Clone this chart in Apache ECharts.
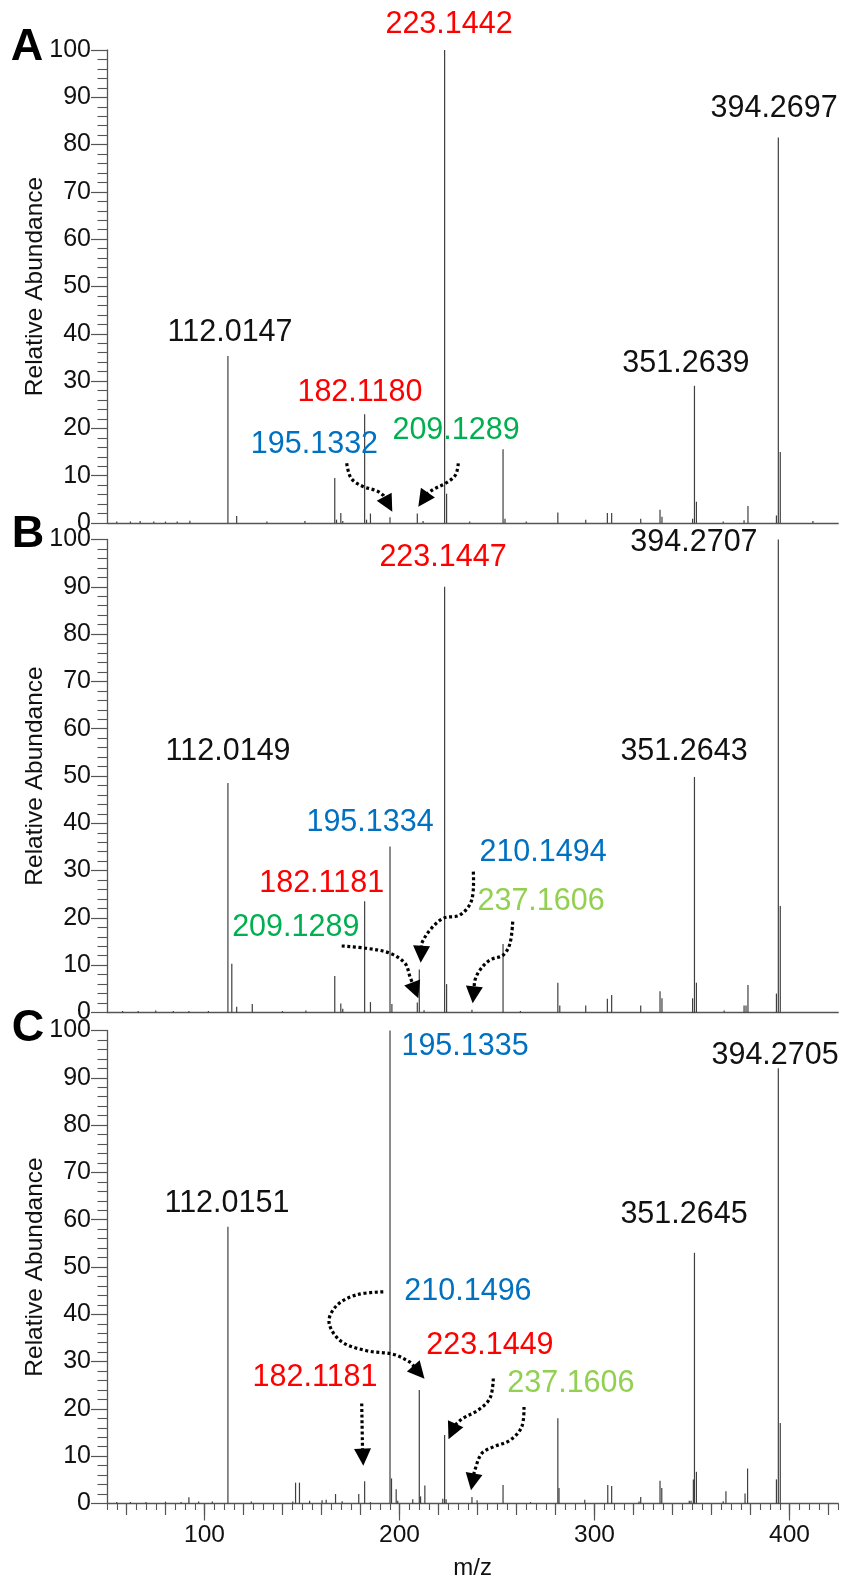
<!DOCTYPE html>
<html>
<head>
<meta charset="utf-8">
<script src="https://cdn.jsdelivr.net/npm/echarts@6/dist/echarts.min.js"></script>
<style>html,body{margin:0;padding:0;background:#fff}#chart{width:843px;height:1577px}</style>
</head>
<body>
<div id="chart"></div>
<script>
// ---------- DATA ----------
// Panel A
const mzA  = [55, 62, 67, 74, 80, 86, 92.5, 112.01, 116.5, 132, 151.5, 166.8, 167.7, 169.9, 170.9, 182.12, 183.1, 185.1, 195.13, 209.13, 212.1, 223.14, 224.15, 236, 253.1, 254.1, 265, 281.2, 295.5, 306.6, 308.8, 323.7, 333.6, 334.6, 350.3, 351.26, 352.27, 366, 376.7, 378.7, 393.3, 394.27, 395.27, 412];
const intA = [0.3, 0.3, 0.4, 0.3, 0.3, 0.3, 0.5, 35.3, 1.5, 0.3, 0.4, 9.5, 0.7, 2.1, 0.4, 23, 0.7, 2.0, 1.2, 2.0, 0.4, 100, 6.2, 0.3, 15.6, 0.9, 0.3, 2.2, 0.7, 2.1, 2.1, 0.9, 2.8, 1.3, 0.9, 29, 4.5, 0.3, 0.6, 3.6, 1.6, 81.5, 15, 0.4];
// Panel B
const mzB  = [58, 66, 75, 84, 92, 102, 112.01, 114.0, 116.5, 124.5, 140, 152, 166.8, 169.9, 170.9, 182.12, 185.1, 195.13, 196.1, 209.13, 210.15, 212.6, 223.14, 224.15, 237.16, 253.1, 262, 281.2, 282.2, 295.5, 306.6, 308.8, 323.7, 333.6, 334.6, 350.3, 351.26, 352.27, 366.5, 376.7, 377.7, 378.7, 393.3, 394.27, 395.27];
const intB = [0.3, 0.3, 0.4, 0.3, 0.3, 0.3, 48.5, 10.3, 1.2, 1.8, 0.3, 0.4, 7.7, 1.9, 0.8, 23.5, 2.2, 35.1, 1.8, 2.1, 9.1, 0.5, 90, 6.0, 0.6, 14.5, 0.3, 6.3, 1.5, 1.5, 2.9, 3.7, 1.5, 4.5, 3.0, 3.0, 49.8, 6.3, 0.4, 1.5, 1.5, 5.8, 4.0, 100, 22.5];
// Panel C
const mzC  = [55, 62, 70, 80, 88, 92.0, 97, 104, 112.01, 124, 145.3, 146.7, 148.7, 153.9, 160.3, 162.4, 167.2, 170.6, 179.1, 182.12, 185.1, 195.13, 195.9, 198.3, 199.1, 206.8, 210.15, 210.8, 213.0, 222.2, 223.14, 223.9, 237.16, 239.8, 253.1, 267.2, 281.2, 281.8, 295.0, 306.8, 308.8, 322.8, 323.7, 333.6, 334.5, 348.6, 349.5, 350.7, 351.26, 352.27, 366, 367.4, 377.2, 378.5, 393.3, 394.27, 395.27];
const intC = [0.3, 0.3, 0.3, 0.4, 0.3, 1.3, 0.4, 0.4, 58.5, 0.4, 0.4, 4.4, 4.4, 0.6, 0.7, 0.8, 2.0, 0.5, 2.0, 4.7, 0.3, 100, 5.3, 3.0, 0.6, 0.9, 24, 1.5, 3.8, 1.0, 14.5, 0.9, 1.4, 0.7, 3.9, 0.3, 18, 3.3, 0.8, 3.9, 3.7, 0.4, 1.4, 4.8, 3.3, 0.6, 0.6, 5.1, 53, 6.7, 0.5, 2.6, 2.1, 7.4, 5.1, 92, 17];

// Peak annotation texts and ion kinds
const labelTextA = ['223.1442', '394.2697', '112.0147', '351.2639', '182.1180', '209.1289', '195.1332'];
const labelKindA = ['red', 'black', 'black', 'black', 'red', 'green', 'blue'];
const labelTextB = ['223.1447', '394.2707', '112.0149', '351.2643', '195.1334', '210.1494', '182.1181', '237.1606', '209.1289'];
const labelKindB = ['red', 'black', 'black', 'black', 'blue', 'blue', 'red', 'lime', 'green'];
const labelTextC = ['195.1335', '394.2705', '112.0151', '351.2645', '210.1496', '223.1449', '182.1181', '237.1606'];
const labelKindC = ['blue', 'black', 'black', 'black', 'blue', 'red', 'red', 'lime'];

// Tick values
const xMajorTicks = [100, 200, 300, 400];
const xMidTicks = [60, 80, 100, 120, 140, 160, 180, 200, 220, 240, 260, 280, 300, 320, 340, 360, 380, 400, 420];
const xMinorTicks = [];
for (let v = 50; v <= 425; v += 5) xMinorTicks.push(v);

// ---------- LAYOUT (annotation anchors in data units: [m/z, abundance]) ----------
const labelPosA = [[225.4,105.3],[392.1,87.7],[113.1,40.2],[346.9,33.8],[179.7,27.5],[229.0,19.5],[156.4,16.5]];
const labelPosB = [[222.3,96.1],[351.0,99.3],[112.1,55.1],[345.9,55.1],[184.9,40.1],[273.6,33.9],[160.1,27.3],[272.6,23.4],[146.8,18.0]];
const labelPosC = [[233.6,96.7],[392.6,94.6],[111.5,63.4],[345.9,61.0],[235.1,44.9],[246.4,33.3],[156.7,26.6],[287.9,25.4]];

const arrowsA = [
  [[172.92,12.62],[175.13,9.51],[180.77,7.82],[188.46,6.77],[191.79,5.81],[196.31,2.39]],
  [[230.15,12.62],[228.72,10.15],[223.85,8.46],[217.69,7.19],[214.10,6.13],[209.64,3.45]]
];
const arrowsB = [
  [[237.85,29.77],[237.03,23.78],[231.03,20.61],[222.46,19.92],[215.64,17.44],[211.38,14.63],[210.87,10.53]],
  [[170.36,14.06],[183.18,13.57],[195.13,12.52],[202.82,10.40],[205.38,7.57],[209.64,3.00]],
  [[258.05,19.20],[256.67,14.63],[253.23,12.16],[246.41,11.10],[241.28,8.99],[238.72,6.87],[237.54,1.95]]
];
const arrowsC = [
  [[191.69,44.74],[178.21,44.14],[167.95,41.92],[163.85,38.33],[170.0,34.31],[183.18,32.30],[196.67,31.56],[205.38,29.87],[212.82,26.38]],
  [[180.62,21.14],[181.03,11.69],[181.44,7.99]],
  [[248.10,26.43],[246.41,22.26],[240.26,19.73],[232.56,18.03],[228.46,16.55],[225.13,13.59]],
  [[263.85,20.42],[262.67,16.19],[256.67,13.38],[248.10,11.97],[242.15,10.57],[238.46,6.83],[236.67,2.81]]
];

// ---------- STYLE ----------
const FONT = '"Liberation Sans", Arial, Helvetica, sans-serif';
const KIND_COLOR = { red: '#FF0000', blue: '#0070C0', green: '#00B050', lime: '#92D050', black: '#111111' };
const AXIS_COLOR = '#555555';
const PEAK_COLOR = '#3f3f3f';
const gridTops = [50, 539.5, 1030.5];
const GRID_H = 473;

const chart = echarts.init(document.getElementById('chart'), null, { renderer: 'canvas' });

const grids = gridTops.map(t => ({ left: 107, top: t, width: 731.25, height: GRID_H, outerBoundsMode: 'none', containLabel: false }));

function baseX(gi) {
  return {
    gridIndex: gi, type: 'value', min: 50, max: 425, position: 'bottom', offset: 0,
    axisLine: { show: true, onZero: false, lineStyle: { color: AXIS_COLOR, width: 1.3 } },
    axisTick: { show: false }, axisLabel: { show: false },
    splitLine: { show: false }
  };
}
const xAxes = [baseX(0), baseX(1),
  Object.assign(baseX(2), {
    axisTick: { show: true, customValues: xMajorTicks, length: 17, lineStyle: { color: AXIS_COLOR, width: 1.2 } },
    axisLabel: { show: true, customValues: xMajorTicks, fontSize: 24.5, color: '#111', fontFamily: FONT, margin: 19 },
    name: 'm/z', nameLocation: 'middle', nameGap: 53,
    nameTextStyle: { fontSize: 24, color: '#111', fontFamily: FONT }
  }),
  Object.assign(baseX(2), {
    axisLine: { show: false },
    axisTick: { show: true, customValues: xMidTicks, length: 11.5, lineStyle: { color: AXIS_COLOR, width: 1.2 } }
  }),
  Object.assign(baseX(2), {
    axisLine: { show: false },
    axisTick: { show: true, customValues: xMinorTicks, length: 6.5, lineStyle: { color: AXIS_COLOR, width: 1.1 } }
  })
];

const yAxes = [0, 1, 2].map(gi => ({
  gridIndex: gi, type: 'value', min: 0, max: 100, interval: 10, position: 'left',
  axisLine: { show: true, lineStyle: { color: AXIS_COLOR, width: 1.3 } },
  axisTick: { show: true, length: 16, lineStyle: { color: AXIS_COLOR, width: 1.2 } },
  minorTick: { show: true, splitNumber: 5, length: 9.5, lineStyle: { color: AXIS_COLOR, width: 1.1 } },
  splitLine: { show: false }, minorSplitLine: { show: false },
  axisLabel: { fontSize: 25, color: '#111', fontFamily: FONT, margin: 16, showMinLabel: true, showMaxLabel: true },
  name: 'Relative Abundance', nameLocation: 'middle', nameGap: 59, nameMoveOverlap: false,
  nameTextStyle: { fontSize: 24.5, color: '#111', fontFamily: FONT }
}));

function peakSeries(gi, xi, mz, ints) {
  return {
    type: 'custom', xAxisIndex: xi, yAxisIndex: gi, clip: false, z: 3,
    encode: { x: 0, y: 1 },
    data: mz.map((m, i) => [m, ints[i]]),
    renderItem: function (params, api) {
      const x = api.value(0), y = api.value(1);
      const a = api.coord([x, 0]), b = api.coord([x, y]);
      return { type: 'line', shape: { x1: a[0], y1: a[1], x2: b[0], y2: b[1] },
               style: { stroke: PEAK_COLOR, lineWidth: 1.2 } };
    }
  };
}

function labelSeries(gi, xi, pos, texts, kinds) {
  return {
    type: 'custom', xAxisIndex: xi, yAxisIndex: gi, clip: false, z: 10, silent: true,
    encode: { x: 0, y: 1 },
    data: pos,
    renderItem: function (params, api) {
      const p = api.coord([api.value(0), api.value(1)]);
      const i = params.dataIndex;
      return { type: 'text', x: p[0], y: p[1],
               style: { text: texts[i], fill: KIND_COLOR[kinds[i]], font: '30.5px ' + FONT,
                        align: 'center', verticalAlign: 'middle' } };
    }
  };
}

function arrowSeries(gi, xi, arrows) {
  return {
    type: 'custom', xAxisIndex: xi, yAxisIndex: gi, clip: false, z: 11, silent: true,
    data: arrows.map(a => a[a.length - 1]),
    renderItem: function (params, api) {
      const path = arrows[params.dataIndex].map(pt => api.coord(pt));
      const T = path[path.length - 1], P = path[path.length - 2];
      let dx = T[0] - P[0], dy = T[1] - P[1];
      const len = Math.sqrt(dx * dx + dy * dy); dx /= len; dy /= len;
      const L = 17, W = 8.5;
      const B = [T[0] - dx * L, T[1] - dy * L];
      const nx = -dy, ny = dx;
      const linePts = path.slice(0, path.length - 2).concat([P, [B[0] + dx * 2, B[1] + dy * 2]]);
      return {
        type: 'group',
        children: [
          { type: 'polyline', shape: { points: linePts, smooth: 0.35 },
            style: { stroke: '#000', lineWidth: 3.2, lineDash: [3, 2.6], lineCap: 'butt', fill: null } },
          { type: 'polygon', shape: { points: [T, [B[0] + nx * W, B[1] + ny * W], [B[0] - nx * W, B[1] - ny * W]] },
            style: { fill: '#000', stroke: null } }
        ]
      };
    }
  };
}

const series = [
  peakSeries(0, 0, mzA, intA), peakSeries(1, 1, mzB, intB), peakSeries(2, 2, mzC, intC),
  labelSeries(0, 0, labelPosA, labelTextA, labelKindA),
  labelSeries(1, 1, labelPosB, labelTextB, labelKindB),
  labelSeries(2, 2, labelPosC, labelTextC, labelKindC),
  arrowSeries(0, 0, arrowsA), arrowSeries(1, 1, arrowsB), arrowSeries(2, 2, arrowsC)
];

const panelLetters = ['A', 'B', 'C'];
const letterPos = [[27, 48], [28, 535], [28, 1028.5]];

chart.setOption({
  animation: false,
  backgroundColor: '#ffffff',
  textStyle: { fontFamily: FONT },
  grid: grids,
  xAxis: xAxes,
  yAxis: yAxes,
  series: series,
  graphic: panelLetters.map((t, i) => ({
    type: 'text', x: letterPos[i][0], y: letterPos[i][1], z: 20,
    style: { text: t, font: 'bold 45px ' + FONT, fill: '#000', align: 'center', verticalAlign: 'middle' }
  }))
});
</script>
</body>
</html>
